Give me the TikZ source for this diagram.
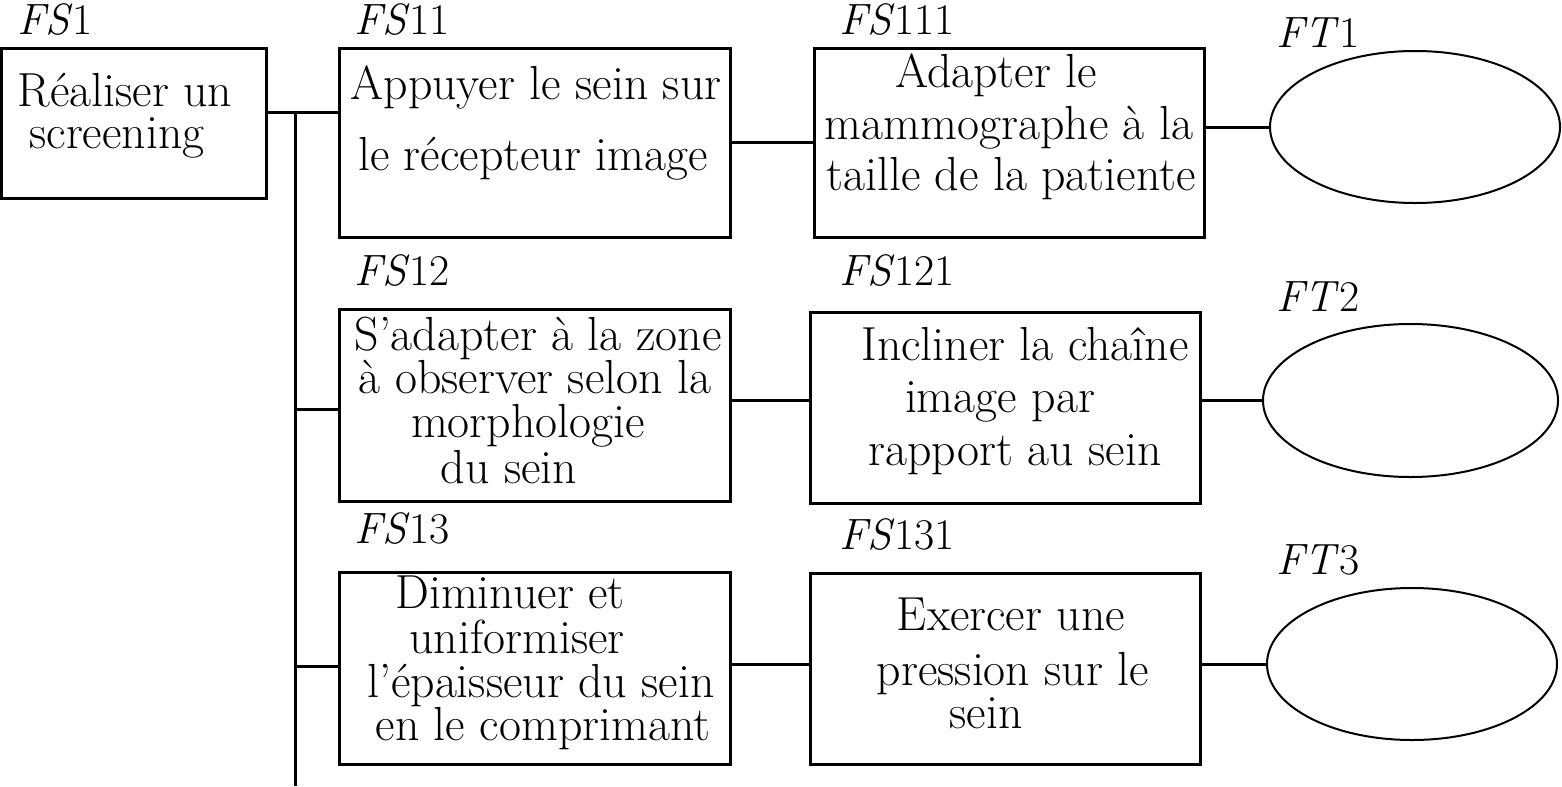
\documentclass[tikz,border=0pt]{standalone}
\usetikzlibrary{shapes.geometric}
\newcommand{\flab}[2]{\textit{#1}#2}
\begin{document}
\begin{tikzpicture}[x=0.5bp,y=-0.5bp,
  every node/.style={font=\fontsize{24}{28}\selectfont},
  fbox/.style={draw, line width=1.5bp, inner sep=0pt},
  fell/.style={draw, ellipse, line width=1bp, inner sep=0pt},
  link/.style={line width=1.5bp},
  txt/.style={anchor=base, inner sep=0pt},
  lbl/.style={anchor=base west, inner sep=0pt, font=\fontsize{22}{26}\selectfont}]
\useasboundingbox (0,0) rectangle (1562,786);

% boxes
\node[fbox, minimum width=132bp, minimum height=75bp]   (b1)   at (134,123)   {};
\node[fbox, minimum width=195bp, minimum height=94.5bp] (b11)  at (535,142.5) {};
\node[fbox, minimum width=195bp, minimum height=94.5bp] (b111) at (1009,142.5) {};
\node[fbox, minimum width=195bp, minimum height=96bp]   (b12)  at (535,405)   {};
\node[fbox, minimum width=195bp, minimum height=95.5bp] (b121) at (1005,407.5) {};
\node[fbox, minimum width=195bp, minimum height=96bp]   (b13)  at (535,668)   {};
\node[fbox, minimum width=195bp, minimum height=95.5bp] (b131) at (1005,668.5) {};

% ellipses
\node[fell, minimum width=145bp, minimum height=76bp]     (e1) at (1415,127)   {};
\node[fell, minimum width=147.5bp, minimum height=76.5bp] (e2) at (1410.5,400.5) {};
\node[fell, minimum width=145bp, minimum height=76bp]     (e3) at (1412,664)   {};

% labels
\node[lbl] (l1)   at (17,34)   {\flab{FS}{1}};
\node[lbl] (l11)  at (354,34)  {\flab{FS}{11}};
\node[lbl] (l111) at (839,34)  {\flab{FS}{111}};
\node[lbl] (lt1)  at (1276,47) {\flab{FT}{1}};
\node[lbl] (l12)  at (354,285) {\flab{FS}{12}};
\node[lbl] (l121) at (839,285) {\flab{FS}{121}};
\node[lbl] (lt2)  at (1276,311) {\flab{FT}{2}};
\node[lbl] (l13)  at (354,543) {\flab{FS}{13}};
\node[lbl] (l131) at (839,549) {\flab{FS}{131}};
\node[lbl] (lt3)  at (1276,574) {\flab{FT}{3}};

% texts
\node[txt] (t1a) at (125,106) {Réaliser un};
\node[txt] (t1b) at (117,148) {screening};

\node[txt] (t11a) at (536,99)  {Appuyer le sein sur};
\node[txt] (t11b) at (533,170) {le récepteur image};

\node[txt] (t111a) at (996,87)   {Adapter le};
\node[txt] (t111b) at (1009,139) {mammographe à la};
\node[txt] (t111c) at (1011,190) {taille de la patiente};

\node[txt] (t12a) at (538,350) {S’adapter à la zone};
\node[txt] (t12b) at (535,393) {à observer selon la};
\node[txt] (t12c) at (528,437) {morphologie};
\node[txt] (t12d) at (509,483) {du sein};

\node[txt] (t121a) at (1025,360) {Incliner la chaîne};
\node[txt] (t121b) at (1000,412) {image par};
\node[txt] (t121c) at (1015,465) {rapport au sein};

\node[txt] (t13a) at (510,608) {Diminuer et};
\node[txt] (t13b) at (517,653) {uniformiser};
\node[txt] (t13c) at (541,697) {l’épaisseur du sein};
\node[txt] (t13d) at (543,740) {en le comprimant};

\node[txt] (t131a) at (1011,630) {Exercer une};
\node[txt] (t131b) at (1013,685) {pression sur le};
\node[txt] (t131c) at (986,728)  {sein};

% connectors
\coordinate (s0) at (295,112);
\coordinate (s4) at (295,786);
\coordinate (j2) at (295,409);
\coordinate (j3) at (295,666);
\draw[link] (b1.east |- s0) -- (b11.west |- s0);
\draw[link] (s0) -- (s4);
\draw[link] (j2) -- (j2 -| b12.west);
\draw[link] (j3) -- (j3 -| b13.west);
\draw[link] (b11.east) -- (b111.west);
\draw[link] (b111.east |- e1.west) -- (e1.west);
\draw[link] (b12.east |- e2.west) -- (b121.west |- e2.west);
\draw[link] (b121.east |- e2.west) -- (e2.west);
\draw[link] (b13.east |- e3.west) -- (b131.west |- e3.west);
\draw[link] (b131.east |- e3.west) -- (e3.west);
\end{tikzpicture}
\end{document}
